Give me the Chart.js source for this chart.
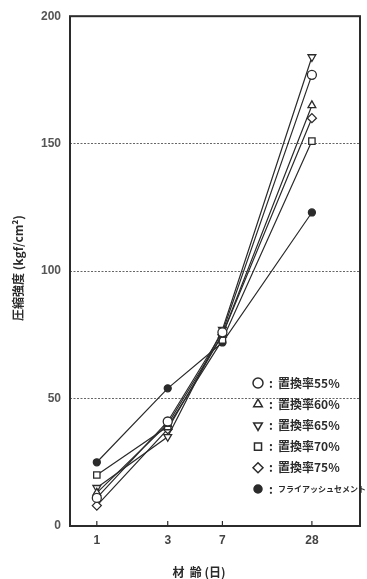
<!DOCTYPE html>
<html>
<head>
<meta charset="utf-8">
<script src="https://cdn.jsdelivr.net/npm/chart.js@4"></script>
<style>
  html, body { margin: 0; padding: 0; background: #fff; }
  canvas { display: block; }
</style>
</head>
<body>
<canvas id="grafico" width="367" height="579"></canvas>
<script>
// 材齢 (日)
const ages = [1, 3, 7, 28];
const xTicks = [1, 3, 7, 28];
const yTicks = [0, 50, 100, 150, 200];

const seriesLabels = ['置換率55%', '置換率60%', '置換率65%', '置換率70%', '置換率75%', 'フライアッシュセメント'];

// 圧縮強度 (kgf/cm²)
const rate55 = [11, 41, 76, 177];
const rate60 = [13, 40, 75, 165];
const rate65 = [15, 35, 77, 184];
const rate70 = [20, 39, 73, 151];
const rate75 = [8, 38, 75, 160];
const flyAsh = [25, 54, 72, 123];

const seriesValues = [rate55, rate60, rate65, rate70, rate75, flyAsh];
const markerStyles = ['circle', 'triangle', 'triangle', 'rect', 'rectRot', 'circle'];
const markerRotations = [0, 0, 180, 0, 0, 0];

const ink = '#2b2b2b';
const jpFont = '"Noto Sans CJK JP", sans-serif';

const datasets = seriesValues.map((vals, i) => ({
    label: seriesLabels[i],
    data: ages.map((a, j) => ({ x: a, y: vals[j] })),
    borderColor: ink,
    borderWidth: 1.2,
    pointStyle: markerStyles[i],
    rotation: markerRotations[i],
    pointRadius: i === 5 ? 3.5 : 4.5,
    pointBorderWidth: 1.3,
    pointBorderColor: ink,
    pointBackgroundColor: i === 5 ? ink : '#fff',
    tension: 0,
}));

const framePlugin = {
    id: 'frame',
    afterDraw(chart) {
        const { ctx, chartArea: a, scales } = chart;
        ctx.save();
        // box
        ctx.strokeStyle = ink;
        ctx.lineWidth = 2;
        ctx.strokeRect(a.left, a.top, a.right - a.left, a.bottom - a.top);
        // inner tick marks on the x axis
        ctx.lineWidth = 1.2;
        xTicks.forEach((v) => {
            const px = scales.x.getPixelForValue(v);
            ctx.beginPath();
            ctx.moveTo(px, a.bottom);
            ctx.lineTo(px, a.bottom - 5);
            ctx.stroke();
        });
        // legend inside the plot
        chart.data.datasets.forEach((ds, i) => {
            const y = 383 + i * 21.2;
            ctx.fillStyle = i === 5 ? ink : '#fff';
            ctx.strokeStyle = ink;
            ctx.lineWidth = 1.5;
            Chart.helpers.drawPoint(ctx, {
                pointStyle: ds.pointStyle,
                rotation: ds.rotation,
                radius: i === 5 ? 4 : 5,
                borderWidth: 1.5,
            }, 258, y);
            ctx.fillStyle = ink;
            ctx.textBaseline = 'middle';
            ctx.textAlign = 'left';
            ctx.font = 'bold 12px ' + jpFont;
            ctx.fillText(':', 269, y);
            ctx.font = i === 5 ? 'bold 8px ' + jpFont : 'bold 12px ' + jpFont;
            ctx.fillText(ds.label, 278, y);
        });
        // axis titles
        ctx.fillStyle = ink;
        ctx.font = 'bold 12px ' + jpFont;
        ctx.textAlign = 'center';
        ctx.textBaseline = 'middle';
        ctx.fillText('材  齢 (日)', 199, 572);
        ctx.translate(18, 268);
        ctx.rotate(-Math.PI / 2);
        ctx.fillText('圧縮強度 (kgf/cm²)', 0, 0);
        ctx.restore();
    },
};

new Chart(document.getElementById('grafico').getContext('2d'), {
    type: 'line',
    data: { datasets },
    options: {
        responsive: false,
        animation: false,
        layout: { padding: { top: 13, right: 7, left: 0, bottom: 0 } },
        plugins: {
            legend: { display: false },
            tooltip: { enabled: false },
        },
        scales: {
            x: {
                type: 'logarithmic',
                min: 0.66,
                max: 59,
                afterFit: (s) => { s.height = 53; },
                afterBuildTicks: (s) => { s.ticks = xTicks.map((v) => ({ value: v })); },
                grid: { display: false, drawTicks: false },
                border: { display: false },
                ticks: {
                    color: '#444',
                    padding: 7,
                    maxRotation: 0,
                    autoSkip: false,
                    font: { family: 'Liberation Sans', size: 12, weight: 'bold' },
                    callback: (v) => String(v),
                },
            },
            y: {
                min: 0,
                max: 200,
                afterFit: (s) => { s.width = 70; },
                afterBuildTicks: (s) => { s.ticks = yTicks.map((v) => ({ value: v })); },
                grid: {
                    drawTicks: false,
                    color: (c) => (c.tick && (c.tick.value === 0 || c.tick.value === 200) ? 'rgba(0,0,0,0)' : '#666'),
                    lineWidth: 1,
                },
                border: { display: false, dash: [2, 1.5] },
                ticks: {
                    color: '#555',
                    padding: 9,
                    font: { family: 'Liberation Sans', size: 12, weight: 'bold' },
                },
            },
        },
    },
    plugins: [framePlugin],
});
</script>
</body>
</html>
